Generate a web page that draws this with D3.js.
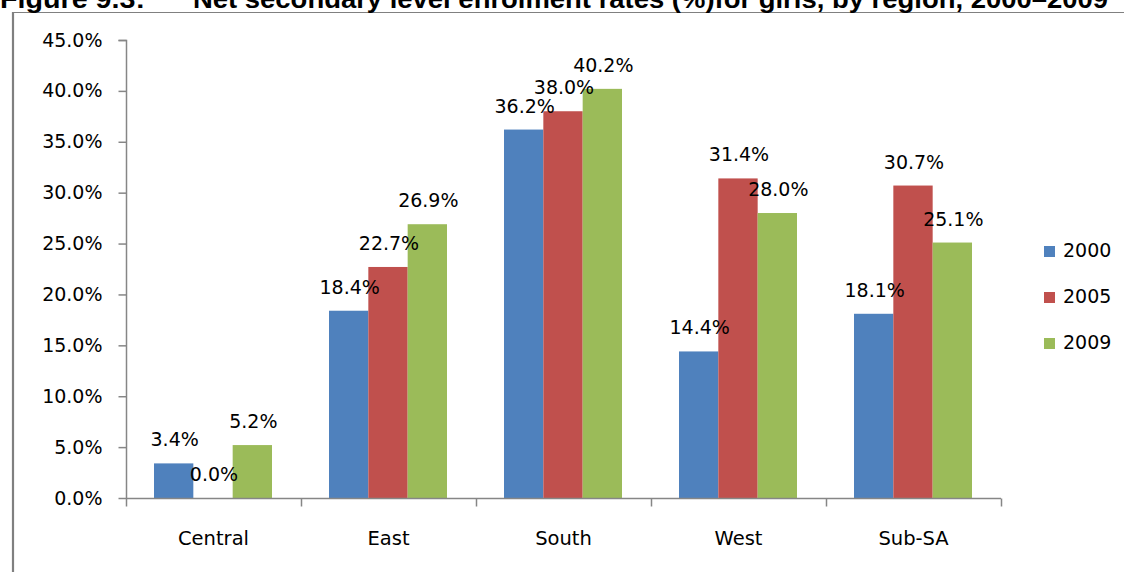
<!DOCTYPE html>
<html>
<head>
<meta charset="utf-8">
<script src="https://cdn.jsdelivr.net/npm/d3@7"></script>
<style>
  html, body { margin: 0; padding: 0; background: #fff; }
  svg { display: block; }
</style>
</head>
<body>
<script>
// Net secondary enrolment rates for girls, by region
const regions = ["Central", "East", "South", "West", "Sub-SA"];
const years = ["2000", "2005", "2009"];
const rates2000 = [3.4, 18.4, 36.2, 14.4, 18.1];
const rates2005 = [0.0, 22.7, 38.0, 31.4, 30.7];
const rates2009 = [5.2, 26.9, 40.2, 28.0, 25.1];
const yTicks = [0, 5, 10, 15, 20, 25, 30, 35, 40, 45];
const colors = ["#4F81BD", "#C0504D", "#9BBB59"];

const seriesValues = [rates2000, rates2005, rates2009];

const W = 1124, H = 572;
const svg = d3.select("body").append("svg").attr("width", W).attr("height", H);

const font = "'DejaVu Sans', sans-serif";
const axisColor = "#868686";

// Frame around the figure
svg.append("line").attr("x1", 12).attr("x2", W).attr("y1", 12.5).attr("y2", 12.5)
  .attr("stroke", "#808080").attr("stroke-width", 1.2);
svg.append("line").attr("x1", 13).attr("x2", 13).attr("y1", 12).attr("y2", H)
  .attr("stroke", "#808080").attr("stroke-width", 2.2);

// Title (its upper part runs past the top edge of the page)
const title = svg.append("text").attr("y", 8)
  .attr("font-family", "'Liberation Sans', Arial, sans-serif")
  .attr("font-weight", "bold").attr("font-size", 25).attr("fill", "#000");
title.append("tspan").attr("x", 0)
  .attr("textLength", 145).attr("lengthAdjust", "spacingAndGlyphs")
  .text("Figure 9.3:");
title.append("tspan").attr("x", 193)
  .attr("textLength", 915).attr("lengthAdjust", "spacingAndGlyphs")
  .text("Net secondary level enrolment rates (%)for girls, by region, 2000\u20132009");

// Scales
const x0 = d3.scaleBand().domain(regions).range([126, 1001]).paddingInner(0).paddingOuter(0);
const x1 = d3.scaleBand().domain(years).range([28, 175 - 29]).padding(0);
const y = d3.scaleLinear().domain([0, 45]).range([498, 40]);

// Y axis
const yAxis = d3.axisLeft(y).tickValues(yTicks).tickSize(8).tickPadding(16)
  .tickFormat(d => d3.format(".1f")(d) + "%");
const gy = svg.append("g").attr("transform", "translate(126.5,0)").call(yAxis);
gy.select(".domain").attr("stroke", axisColor).attr("stroke-width", 1.5).attr("d", "M-8,40.5H0V498.5");
gy.selectAll(".tick line").attr("stroke", axisColor).attr("stroke-width", 1.5);
gy.selectAll(".tick text").attr("font-family", font).attr("font-size", 19).attr("fill", "#000");

// Bars
const groups = svg.append("g").selectAll("g").data(regions).join("g")
  .attr("transform", d => `translate(${x0(d)},0)`);

groups.selectAll("rect")
  .data((r, i) => years.map((yr, k) => ({ yr, k, v: seriesValues[k][i] })))
  .join("rect")
  .attr("x", d => x1(d.yr))
  .attr("width", x1.bandwidth())
  .attr("y", d => y(d.v))
  .attr("height", d => y(0) - y(d.v))
  .attr("fill", d => colors[d.k]);

// Value labels above each bar
groups.selectAll("text")
  .data((r, i) => years.map((yr, k) => ({ yr, k, v: seriesValues[k][i] })))
  .join("text")
  .attr("x", d => x1(d.yr) + x1.bandwidth() / 2 + 1)
  .attr("y", d => y(d.v) - 17)
  .attr("text-anchor", "middle")
  .attr("font-family", font).attr("font-size", 19).attr("fill", "#000")
  .text(d => d3.format(".1f")(d.v) + "%");

// X axis with category boundary ticks
const xAxis = d3.axisBottom(x0).tickSize(0).tickPadding(33);
const gx = svg.append("g").attr("transform", "translate(0,498.5)").call(xAxis);
gx.select(".domain").attr("stroke", axisColor).attr("stroke-width", 1.5).attr("d", "M126,0H1001");
gx.selectAll(".tick text").attr("font-family", font).attr("font-size", 19.5).attr("fill", "#000");
const bounds = regions.map(r => x0(r)).concat([x0.range()[1]]);
gx.selectAll(".bound").data(bounds).join("line").attr("class", "bound")
  .attr("x1", d => d + 0.5).attr("x2", d => d + 0.5).attr("y1", 0).attr("y2", 8)
  .attr("stroke", axisColor).attr("stroke-width", 1.5);

// Legend
const legend = svg.append("g").selectAll("g").data(years).join("g")
  .attr("transform", (d, i) => `translate(1044,${246 + i * 46})`);
legend.append("rect").attr("width", 11).attr("height", 11).attr("fill", (d, i) => colors[i]);
legend.append("text").attr("x", 19).attr("y", 11)
  .attr("font-family", font).attr("font-size", 19).attr("fill", "#000").text(d => d);
</script>
</body>
</html>
